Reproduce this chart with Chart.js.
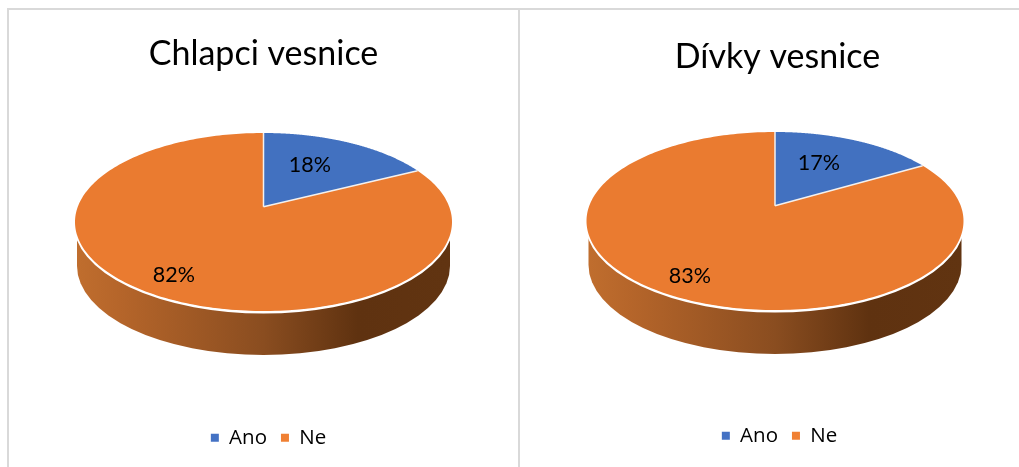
<!DOCTYPE html>
<html>
<head>
<meta charset="utf-8">
<style>
html,body{margin:0;padding:0;background:#fff;width:1019px;height:467px;overflow:hidden}
.ln{position:absolute;background:#d9d9d9}
canvas{position:absolute}
</style>
<script src="https://cdn.jsdelivr.net/npm/chart.js@4"></script>
</head>
<body>
<div class="ln" style="left:7px;top:8px;width:2px;height:459px"></div>
<div class="ln" style="left:7px;top:8px;width:1012px;height:2px"></div>
<div class="ln" style="left:518px;top:8px;width:2px;height:459px"></div>
<canvas id="c1" width="509" height="457" style="left:9px;top:10px"></canvas>
<canvas id="c2" width="483" height="457" style="left:536px;top:10px"></canvas>
<script>
const categories = ['Ano', 'Ne'];
const boysValues = [17.6, 82.4];
const girlsValues = [16.6, 83.4];
const boysTitle = 'Chlapci vesnice';
const girlsTitle = 'Dívky vesnice';
const sliceColors = ['#4271c0', '#ea7b30'];
const legendColors = ['#4472c4', '#f08033'];

const RX = 188.5, RY = 89, DEPTH = 44, PERSP = -0.172;
const labelReach = [0.61, 0.81];
const labelAngleFrac = [0.42, 0.5];

function project(p, a, r) {
  const u = Math.cos(a) * r, v = Math.sin(a) * r, w = 1 + PERSP * v;
  return {
    x: p.cx + RX * Math.sqrt(1 - PERSP * PERSP) * u / w,
    y: p.cy + RY * (v + PERSP) / w
  };
}

const tiltedPie = {
  id: 'tiltedPie',
  afterLayout(chart, args, o) {
    chart.legend.left += o.legendShiftX;
    chart.legend.right += o.legendShiftX;
    chart.legend.top += o.legendShiftY;
    chart.legend.bottom += o.legendShiftY;
  },
  beforeDatasetDraw(chart, args, o) {
    const ctx = chart.ctx, els = chart.getDatasetMeta(0).data;
    const p = { cx: els[0].x + o.shiftX, cy: o.centerY };
    // side wall
    const g = ctx.createLinearGradient(p.cx - RX, 0, p.cx + RX, 0);
    g.addColorStop(0, '#c06e2e');
    g.addColorStop(0.12, '#b5652a');
    g.addColorStop(0.5, '#8a4d20');
    g.addColorStop(0.75, '#5f3210');
    g.addColorStop(1, '#613411');
    ctx.save();
    ctx.beginPath();
    ctx.moveTo(p.cx - RX + 2, p.cy);
    ctx.ellipse(p.cx, p.cy + DEPTH, RX - 2, RY, 0, Math.PI, 0, true);
    ctx.lineTo(p.cx + RX - 2, p.cy);
    ctx.closePath();
    ctx.fillStyle = g;
    ctx.fill();
    // white rim below the top face
    ctx.beginPath();
    ctx.ellipse(p.cx, p.cy + 1, RX, RY, 0, 0, Math.PI);
    ctx.strokeStyle = '#fff';
    ctx.lineWidth = 3;
    ctx.stroke();
    // slices, from the library's own arc angles
    const apex = project(p, 0, 0);
    els.forEach((el) => {
      const s = el.startAngle, e = el.endAngle, n = 240;
      ctx.beginPath();
      ctx.moveTo(apex.x, apex.y);
      for (let i = 0; i <= n; i++) {
        const q = project(p, s + (e - s) * i / n, 1);
        ctx.lineTo(q.x, q.y);
      }
      ctx.closePath();
      ctx.fillStyle = el.options.backgroundColor;
      ctx.fill();
    });
    // separators
    ctx.strokeStyle = '#f4f1ee';
    ctx.lineWidth = 1.5;
    els.forEach((el) => {
      const q = project(p, el.startAngle, 1);
      ctx.beginPath();
      ctx.moveTo(apex.x, apex.y);
      ctx.lineTo(q.x, q.y);
      ctx.stroke();
    });
    // value labels
    ctx.fillStyle = '#000';
    ctx.font = '21.5px Lato';
    ctx.textAlign = 'center';
    ctx.textBaseline = 'middle';
    const vals = chart.data.datasets[0].data;
    els.forEach((el, i) => {
      const a = el.startAngle + (el.endAngle - el.startAngle) * labelAngleFrac[i];
      const q = project(p, a, labelReach[i]);
      ctx.fillText(Math.round(vals[i]) + '%', q.x, q.y + 1);
    });
    ctx.restore();
    return false;
  }
};

function makePie(id, title, values, t) {
  new Chart(document.getElementById(id), {
    type: 'pie',
    data: { labels: categories, datasets: [{ data: values, backgroundColor: sliceColors, borderWidth: 0 }] },
    plugins: [tiltedPie],
    options: {
      responsive: false,
      animation: false,
      radius: RX,
      events: [],
      layout: { padding: { top: t.titleTop, bottom: 9 } },
      plugins: {
        tiltedPie: t,
        title: { display: true, text: title, color: '#000', font: { family: 'Lato', size: 34, weight: 'normal' }, padding: { top: 0, bottom: 10 } },
        legend: {
          position: 'bottom',
          labels: {
            boxWidth: 8, boxHeight: 8, padding: 14, color: '#111',
            font: { family: '"Open Sans"', size: 20.5 },
            generateLabels(chart) {
              return categories.map((text, i) => ({ text, fillStyle: legendColors[i], strokeStyle: legendColors[i], lineWidth: 0, index: i, hidden: false }));
            }
          }
        },
        tooltip: { enabled: false }
      }
    }
  });
}
makePie('c1', boysTitle, boysValues, { shiftX: 0, centerY: 212, titleTop: 24, legendShiftX: 5, legendShiftY: 0 });
makePie('c2', girlsTitle, girlsValues, { shiftX: -2.5, centerY: 211, titleTop: 27, legendShiftX: 2, legendShiftY: -2 });
</script>
</body>
</html>
